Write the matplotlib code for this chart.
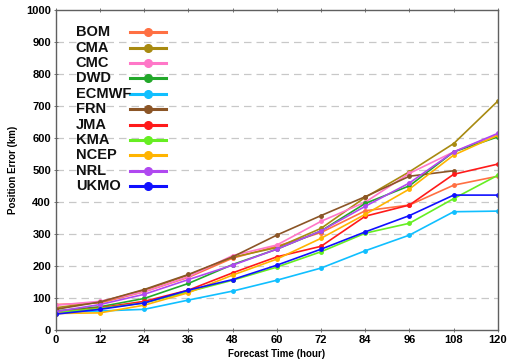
import matplotlib
matplotlib.use("Agg")
import matplotlib.pyplot as plt
from matplotlib.lines import Line2D
import numpy as np

plt.rcParams['font.family'] = ['Liberation Sans', 'DejaVu Sans']

hours = [0, 12, 24, 36, 48, 60, 72, 84, 96, 108, 120]
bom = [80, 85, 120, 165, 225, 262, 305, 373, 391, 453, 481]
cma = [70, 88, 125, 172, 228, 258, 318, 415, 495, 583, 716]
cmc = [78, 90, 120, 167, 233, 266, 340, 400, 490, 557, 612]
dwd = [60, 73, 99, 146, 205, 253, 310, 396, 451, 557, 604]
ecmwf = [55, 60, 65, 94, 122, 156, 194, 248, 297, 370, 372]
frn = [65, 88, 127, 174, 229, 297, 358, 417, 481, 498, np.nan]
jma = [55, 70, 90, 125, 179, 229, 262, 356, 391, 487, 519]
kma = [55, 68, 85, 120, 156, 197, 245, 303, 334, 411, 484]
ncep = [52, 54, 78, 117, 172, 222, 287, 362, 441, 547, 609]
nrl = [58, 80, 112, 158, 203, 253, 310, 387, 460, 557, 615]
ukmo = [50, 65, 85, 125, 158, 203, 253, 307, 358, 422, 422]

names = ["BOM", "CMA", "CMC", "DWD", "ECMWF", "FRN", "JMA", "KMA", "NCEP", "NRL", "UKMO"]
series = [bom, cma, cmc, dwd, ecmwf, frn, jma, kma, ncep, nrl, ukmo]
colors = ["#ff7043", "#a88a10", "#ff77c8", "#22a82a", "#10bfff", "#8b5526",
          "#ff1a1a", "#66ee22", "#ffb400", "#b048f0", "#1010ff"]

fig = plt.figure(figsize=(5.07, 3.62), dpi=100)
ax = fig.add_axes([0.110, 0.088, 0.872, 0.884])

for name, vals, c in zip(names, series, colors):
    ax.plot(hours, vals, color=c, lw=1.2, marker='o', ms=2.5, label=name)

ax.set_xlim(0, 120)
ax.set_ylim(0, 1000)
ax.set_xticks(hours)
ax.set_yticks(range(0, 1001, 100))
for y in range(100, 1000, 100):
    ax.axhline(y, color='#c8c8c8', lw=0.9, ls=(0, (6, 4)), zorder=0)

for s in ax.spines.values():
    s.set_color('#606060')
    s.set_linewidth(1.0)
ax.tick_params(axis='both', labelsize=8, length=3, width=0.6, color='#606060',
               top=True, right=False, direction='inout', pad=2)
for lab in ax.get_xticklabels() + ax.get_yticklabels():
    lab.set_fontweight('bold')

ax.set_xlabel("Forecast Time (hour)", fontsize=7, fontweight='bold', labelpad=3)
ax.set_ylabel("Position Error (km)", fontsize=7, fontweight='bold', labelpad=6)

# manual legend: text left, line sample right
y0 = 1 - 22 / 320.0
dy = 15.4 / 320.0
for i, (name, c) in enumerate(zip(names, colors)):
    yy = y0 - i * dy
    ax.text(0.045, yy, name, transform=ax.transAxes, fontsize=10.5,
            fontweight='bold', ha='left', va='center', color='#111111')
    ax.add_line(Line2D([0.167, 0.249], [yy, yy], transform=ax.transAxes,
                       color=c, lw=2.2))
    ax.add_line(Line2D([0.208], [yy], transform=ax.transAxes, color=c,
                       marker='o', ms=5.5, lw=0))

fig.savefig("out.png", dpi=100)
